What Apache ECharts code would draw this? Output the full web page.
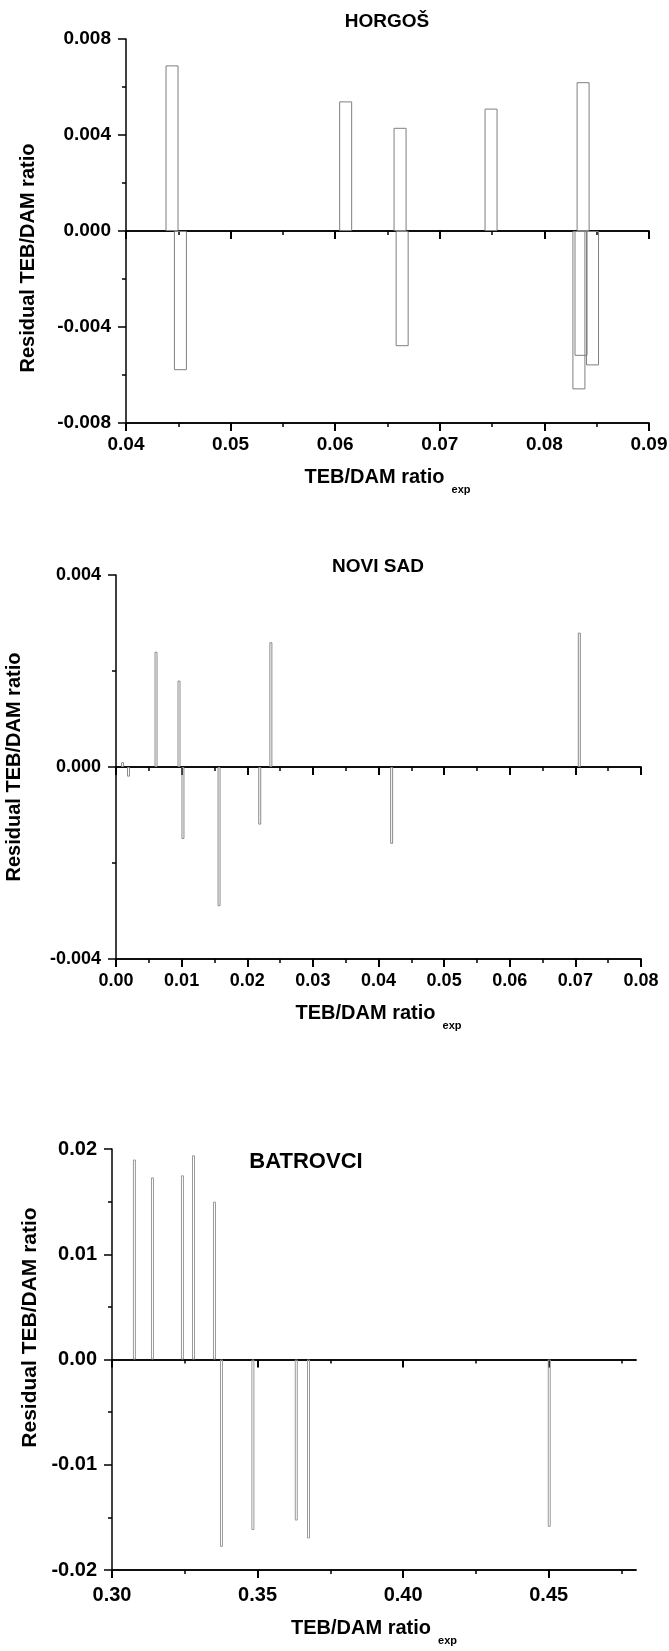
<!DOCTYPE html>
<html>
<head>
<meta charset="utf-8">
<script src="https://cdn.jsdelivr.net/npm/echarts@6/dist/echarts.min.js"></script>
<style>
html, body { margin: 0; padding: 0; background: #fff; }
.chartBox { position: absolute; left: 0; width: 669px; }
</style>
</head>
<body>
<div id="horgos" class="chartBox" style="top:0;height:500px"></div>
<div id="noviSad" class="chartBox" style="top:500px;height:560px"></div>
<div id="batrovci" class="chartBox" style="top:1060px;height:591px"></div>
<script>
// HORGOŠ
const horgosX = [0.0444, 0.0452, 0.0610, 0.0662, 0.0664, 0.0749, 0.0837, 0.0833, 0.0835, 0.0846];
const horgosY = [0.0069, -0.0058, 0.0054, 0.0043, -0.0048, 0.0051, 0.0062, -0.0066, -0.0052, -0.0056];
const horgosXTicks = [0.04, 0.05, 0.06, 0.07, 0.08, 0.09];
const horgosXMinor = [0.045, 0.055, 0.065, 0.075, 0.085];
const horgosYTicks = [-0.008, -0.004, 0, 0.004, 0.008];

// NOVI SAD
const noviSadX = [0.0010, 0.0019, 0.0061, 0.0096, 0.0102, 0.0157, 0.0219, 0.0236, 0.0420, 0.0706];
const noviSadY = [0.0001, -0.0002, 0.0024, 0.0018, -0.0015, -0.0029, -0.0012, 0.0026, -0.0016, 0.0028];
const noviSadXTicks = [0, 0.01, 0.02, 0.03, 0.04, 0.05, 0.06, 0.07, 0.08];
const noviSadXMinor = [0.005, 0.015, 0.025, 0.035, 0.045, 0.055, 0.065, 0.075];
const noviSadYTicks = [-0.004, 0, 0.004];

// BATROVCI
const batrovciX = [0.3077, 0.3139, 0.3242, 0.3280, 0.3352, 0.3376, 0.3484, 0.3633, 0.3675, 0.4502];
const batrovciY = [0.0190, 0.0173, 0.0175, 0.0194, 0.0150, -0.0178, -0.0162, -0.0153, -0.0170, -0.0159];
const batrovciXTicks = [0.30, 0.35, 0.40, 0.45];
const batrovciXMinor = [0.325, 0.375, 0.425, 0.475];
const batrovciXMax = 0.48;
const batrovciYTicks = [-0.02, -0.01, 0, 0.01, 0.02];

const FONT = 'Liberation Sans, Arial, Helvetica, sans-serif';

function drawResidual(dom, c) {
  const chart = echarts.init(dom);
  const xMin = c.xTicks[0];
  const xMax = c.xMax != null ? c.xMax : c.xTicks[c.xTicks.length - 1];
  const yMin = c.yTicks[0];
  const yMax = c.yTicks[c.yTicks.length - 1];
  const yStep = Number((c.yTicks[1] - c.yTicks[0]).toFixed(6));

  // 0: bottom axis with labels, 1: its minor ticks, 2: line at y = 0, 3: its minor ticks
  const xAxes = [
    { bottom: true, major: true },
    { bottom: true, major: false },
    { bottom: false, major: true },
    { bottom: false, major: false },
  ].map((a) => ({
    type: 'value',
    position: 'bottom',
    min: xMin,
    max: xMax,
    splitLine: { show: false },
    axisLine: {
      show: true,
      onZero: !a.bottom,
      onZeroAxisIndex: 0,
      lineStyle: { color: '#000', width: 1.5 },
    },
    axisTick: {
      show: true,
      inside: false,
      customValues: a.major ? c.xTicks : c.xMinor,
      length: a.major ? 8 : 4,
      lineStyle: { color: '#000', width: a.major ? 2 : 1.5 },
    },
    axisLabel: {
      show: a.bottom && a.major,
      customValues: c.xTicks,
      margin: c.xLabelMargin,
      color: '#000',
      fontFamily: FONT,
      fontWeight: 'bold',
      fontSize: c.labelSize,
      formatter: (v) => v.toFixed(2),
    },
    name: a.bottom && a.major ? '{m|TEB/DAM ratio}{s|exp}' : '',
    nameLocation: 'middle',
    nameGap: c.xNameGap,
    nameTextStyle: {
      color: '#000',
      rich: {
        m: { fontSize: 20, fontWeight: 'bold', fontFamily: FONT, color: '#000', lineHeight: 24 },
        s: { fontSize: 11, fontWeight: 'bold', fontFamily: FONT, color: '#000', lineHeight: 12, padding: [26, 0, 0, 7] },
      },
    },
  }));

  chart.setOption({
    animation: false,
    backgroundColor: '#fff',
    title: {
      text: c.title,
      left: c.titleX,
      top: c.titleTop,
      textAlign: 'center',
      padding: 0,
      textStyle: { color: '#000', fontFamily: FONT, fontWeight: 'bold', fontSize: c.titleSize },
    },
    grid: Object.assign({ containLabel: false, outerBoundsMode: 'none' }, c.grid),
    xAxis: xAxes,
    yAxis: {
      type: 'value',
      min: yMin,
      max: yMax,
      interval: yStep,
      splitLine: { show: false },
      axisLine: { show: true, onZero: false, lineStyle: { color: '#000', width: 1.5 } },
      axisTick: { show: true, inside: false, length: 8, lineStyle: { color: '#000', width: 1.5 } },
      minorTick: { show: true, splitNumber: 2, length: 4, lineStyle: { color: '#000', width: 1.5 } },
      axisLabel: {
        margin: 15,
        color: '#000',
        fontFamily: FONT,
        fontWeight: 'bold',
        fontSize: c.labelSize,
        formatter: (v) => v.toFixed(c.yDigits),
      },
      name: 'Residual TEB/DAM ratio',
      nameLocation: 'middle',
      nameRotate: 90,
      nameGap: c.yNameGap,
      nameTextStyle: { color: '#000', fontFamily: FONT, fontWeight: 'bold', fontSize: c.yNameSize, padding: c.yNamePad },
    },
    series: [
      {
        type: 'bar',
        xAxisIndex: 0,
        yAxisIndex: 0,
        data: c.xs.map((x, i) => [x, c.ys[i]]),
        barWidth: c.barWidth,
        silent: true,
        itemStyle: { color: 'rgba(255,255,255,0)', borderColor: c.barColor, borderWidth: 1 },
      },
    ],
  });
  return chart;
}

drawResidual(document.getElementById('horgos'), {
  xs: horgosX,
  ys: horgosY,
  xTicks: horgosXTicks,
  xMinor: horgosXMinor,
  yTicks: horgosYTicks,
  yDigits: 3,
  title: 'HORGOŠ',
  titleX: 387,
  titleTop: 12,
  titleSize: 19,
  labelSize: 19,
  grid: { left: 126, right: 20, top: 39, bottom: 77 },
  xLabelMargin: 12,
  xNameGap: 40,
  yNameGap: 88,
  yNameSize: 20,
  yNamePad: [0, 54, 0, 0],
  barWidth: 13,
  barColor: '#7f7f7f',
});

drawResidual(document.getElementById('noviSad'), {
  xs: noviSadX,
  ys: noviSadY,
  xTicks: noviSadXTicks,
  xMinor: noviSadXMinor,
  yTicks: noviSadYTicks,
  yDigits: 3,
  title: 'NOVI SAD',
  titleX: 378,
  titleTop: 57,
  titleSize: 19,
  labelSize: 18,
  grid: { left: 116, right: 28, top: 75, bottom: 101 },
  xLabelMargin: 13,
  xNameGap: 37,
  yNameGap: 92,
  yNameSize: 20,
  yNamePad: [0, 0, 0, 0],
  barWidth: 3,
  barColor: '#8a8a8a',
});

drawResidual(document.getElementById('batrovci'), {
  xs: batrovciX,
  ys: batrovciY,
  xTicks: batrovciXTicks,
  xMinor: batrovciXMinor,
  xMax: batrovciXMax,
  yTicks: batrovciYTicks,
  yDigits: 2,
  title: 'BATROVCI',
  titleX: 306,
  titleTop: 91,
  titleSize: 22,
  labelSize: 20,
  grid: { left: 112, right: 33, top: 89, bottom: 81 },
  xLabelMargin: 15,
  xNameGap: 43,
  yNameGap: 69,
  yNameSize: 21,
  yNamePad: [0, 0, 0, 64],
  barWidth: 3,
  barColor: '#999999',
});
</script>
</body>
</html>
